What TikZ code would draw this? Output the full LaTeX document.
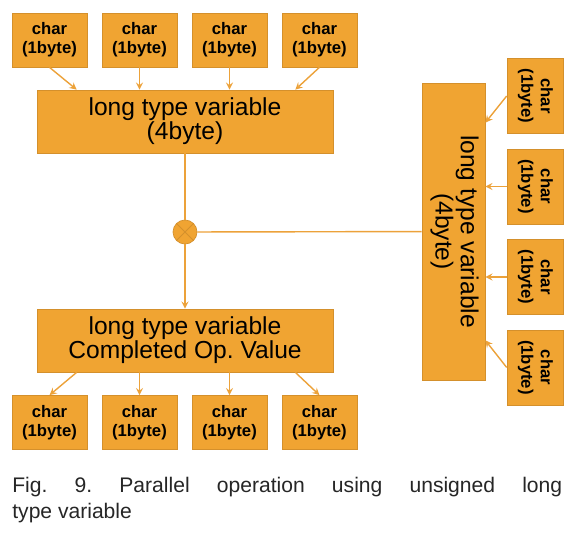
\documentclass[tikz,border=0pt]{standalone}
\usepackage{fontspec}
\setmainfont{Liberation Sans}
\usepackage{tikz}
\usetikzlibrary{arrows}
\definecolor{boxfill}{RGB}{240,164,50}
\definecolor{boxline}{RGB}{212,144,44}
\definecolor{wire}{RGB}{236,162,58}
\frenchspacing
\tikzset{->,>=stealth,x=0.02cm,y=-0.02cm,node distance=1.8cm,
  bytebox/.style={draw=boxline,fill=boxfill,minimum width=1.5cm,minimum height=1.08cm,
    align=center,inner sep=0pt,font=\bfseries\fontsize{9.5}{11}\selectfont},
  sidebyte/.style={bytebox,minimum width=1.12cm,minimum height=1.5cm},
  longbox/.style={draw=boxline,fill=boxfill,minimum width=5.92cm,minimum height=1.26cm,
    align=center,inner sep=0pt,font=\fontsize{14}{13.8}\selectfont},
  every edge/.style={draw=wire,line width=0.8pt}}

\begin{document}
\begin{tikzpicture}
    \useasboundingbox (0,0) rectangle (582,534);
    \node[bytebox] (t1) at (49.5,40) {char\\(1byte)};
    \node[bytebox] (t2) [right of=t1] {char\\(1byte)};
    \node[bytebox] (t3) [right of=t2] {char\\(1byte)};
    \node[bytebox] (t4) [right of=t3] {char\\(1byte)};
    \node[longbox] (top) at (185,121.5) {long type variable\\(4byte)};
    \node[circle,draw=boxline,fill=boxfill,minimum size=0.48cm,inner sep=0pt] (xor) at (185,232) {};
    \draw[-,boxline,line width=0.6pt] (xor.45) -- (xor.225) (xor.135) -- (xor.315);
    \node[longbox] (bot) at (185,340.5) {long type variable\\Completed Op. Value};
    \node[bytebox] (b1) at (49.5,422.5) {char\\(1byte)};
    \node[bytebox] (b2) [right of=b1] {char\\(1byte)};
    \node[bytebox] (b3) [right of=b2] {char\\(1byte)};
    \node[bytebox] (b4) [right of=b3] {char\\(1byte)};
    \node[longbox,minimum width=1.26cm,minimum height=5.94cm] (side) at (453.5,231.5)
      {\rotatebox{-90}{\begin{tabular}{@{}c@{}}long type variable\\(4byte)\end{tabular}}};
    \node[sidebyte] (r1) at (535,96) {\rotatebox{-90}{\begin{tabular}{@{}c@{}}char\\(1byte)\end{tabular}}};
    \node[sidebyte,node distance=1.81cm] (r2) [below of=r1] {\rotatebox{-90}{\begin{tabular}{@{}c@{}}char\\(1byte)\end{tabular}}};
    \node[sidebyte,node distance=1.81cm] (r3) [below of=r2] {\rotatebox{-90}{\begin{tabular}{@{}c@{}}char\\(1byte)\end{tabular}}};
    \node[sidebyte,node distance=1.81cm] (r4) [below of=r3] {\rotatebox{-90}{\begin{tabular}{@{}c@{}}char\\(1byte)\end{tabular}}};
    \path
    (t1.south) edge ([xshift=0.8cm]top.north west)
    (t2) edge (t2 |- top.north)
    (t3) edge (t3 |- top.north)
    (t4.south) edge ([xshift=-0.76cm]top.north east)
    (top) edge[-] (xor)
    (xor) edge (bot)
    (xor) edge[-] (side)
    ([xshift=0.8cm]bot.south west) edge (b1.north)
    (b2 |- bot.south) edge (b2)
    (b3 |- bot.south) edge (b3)
    ([xshift=-0.76cm]bot.south east) edge (b4.north)
    (r1.west) edge ([yshift=-0.8cm]side.north east)
    (r2) edge (r2 -| side.east)
    (r3) edge (r3 -| side.east)
    (r4.west) edge ([yshift=0.8cm]side.south east)
    ;
    \node[anchor=north west,inner sep=0pt,text width=11cm,align=justify,text=black!85,
      font=\fontsize{12}{14.7}\selectfont] (cap) at (12,477)
      {Fig. 9. Parallel operation using unsigned long\linebreak type variable};
\end{tikzpicture}
\end{document}
